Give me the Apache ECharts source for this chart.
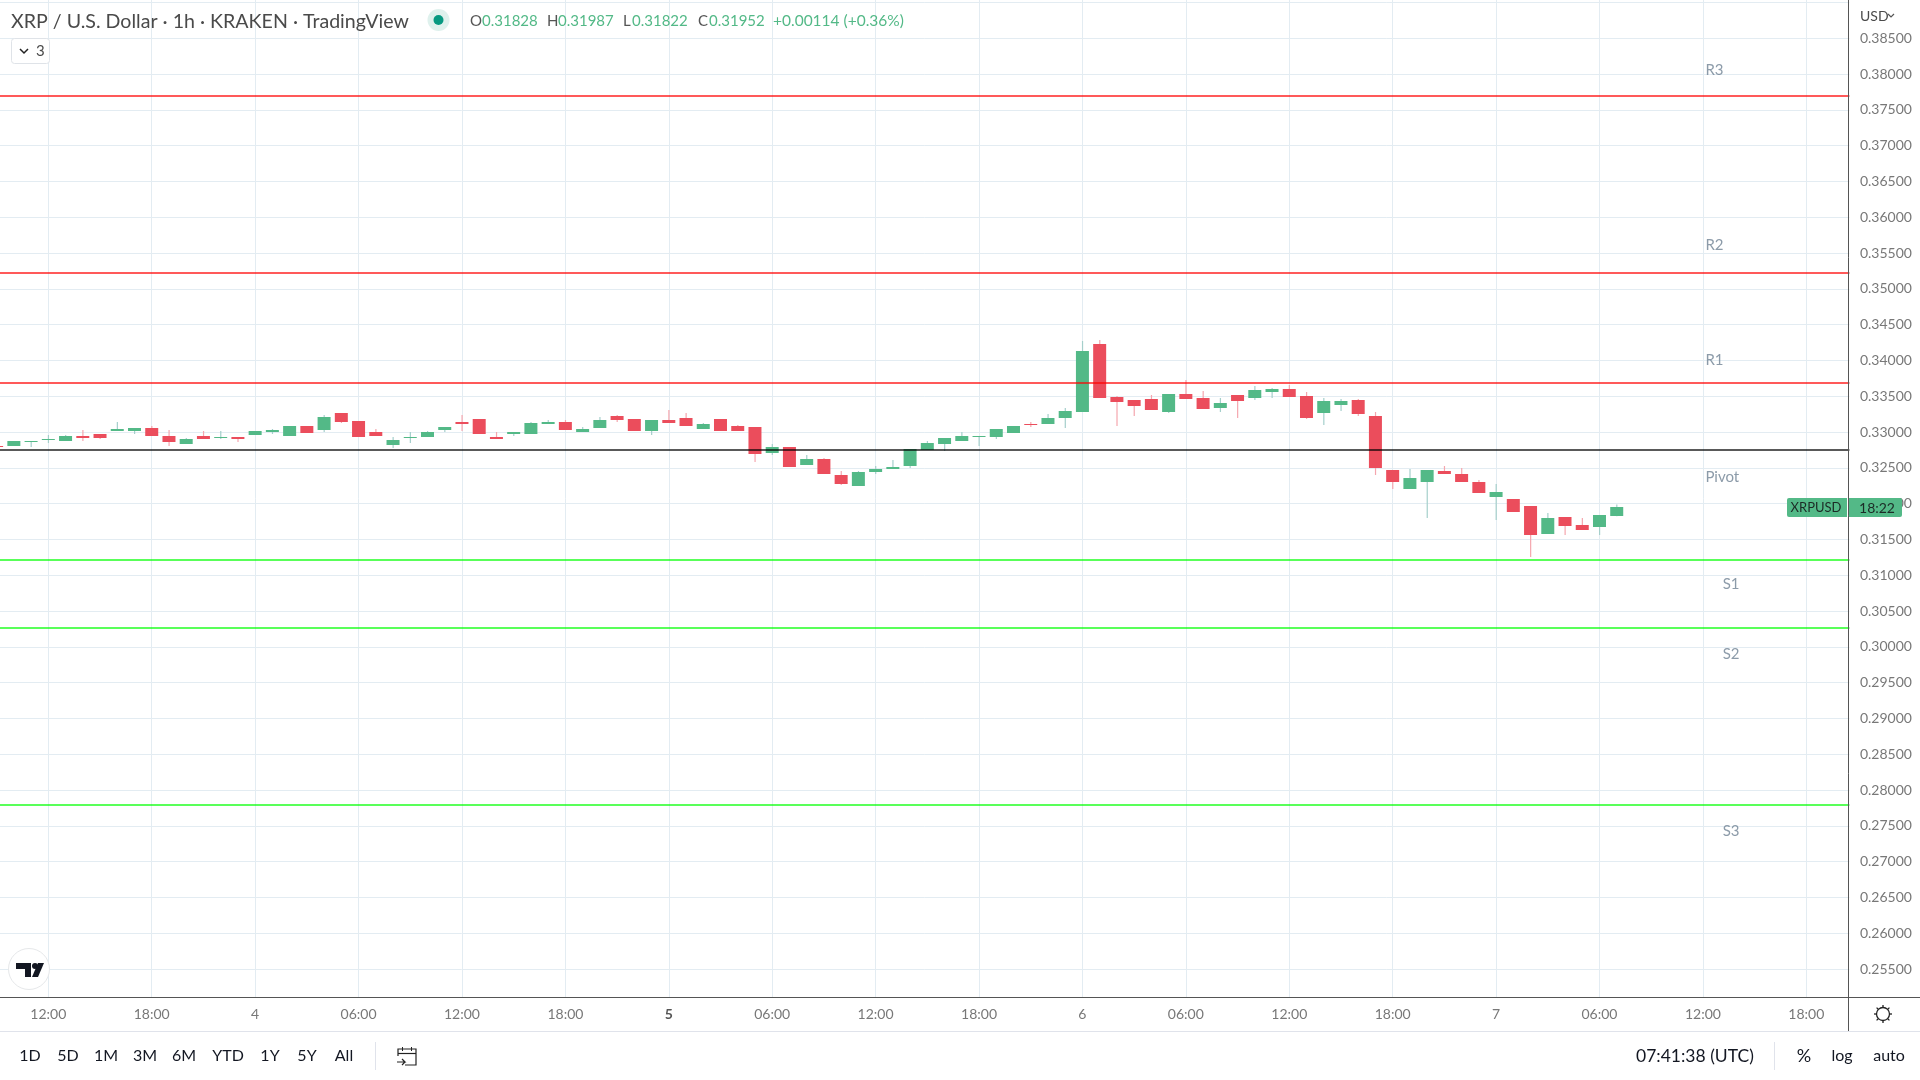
<!DOCTYPE html>
<html>
<head>
<meta charset="utf-8">
<title>XRP / U.S. Dollar 1h</title>
<script src="https://cdn.jsdelivr.net/npm/echarts@6/dist/echarts.min.js"></script>
<style>
  html, body { margin: 0; padding: 0; background: #fff; }
  #main { width: 1920px; height: 1080px; }
</style>
</head>
<body>
<div id="main"></div>
<script>
// hourly candles, first one is a sliver cut off by the left edge
var opens = [
  0.32804, 0.32804, 0.32860, 0.32888, 0.32874, 0.32944, 0.32972, 0.33014, 0.33014, 0.33056,
  0.32944, 0.32832, 0.32944, 0.32916, 0.32930, 0.32958, 0.33000, 0.32944, 0.33084, 0.33028,
  0.33265, 0.33153, 0.33000, 0.32818, 0.32916, 0.32930, 0.33028, 0.33139, 0.33181, 0.32930,
  0.32972, 0.32972, 0.33112, 0.33140, 0.33000, 0.33056, 0.33224, 0.33182, 0.33014, 0.33168,
  0.33196, 0.33042, 0.33182, 0.33084, 0.33070, 0.32707, 0.32791, 0.32539, 0.32623, 0.32400,
  0.32246, 0.32442, 0.32483, 0.32525, 0.32749, 0.32833, 0.32874, 0.32930, 0.32930, 0.32986,
  0.33112, 0.33112, 0.33195, 0.33279, 0.34229, 0.33489, 0.33447, 0.33461, 0.33279, 0.33531,
  0.33475, 0.33335, 0.33517, 0.33475, 0.33559, 0.33600, 0.33503, 0.33265, 0.33377, 0.33447,
  0.33223, 0.32469, 0.32204, 0.32302, 0.32455, 0.32414, 0.32302, 0.32092, 0.32064, 0.31967,
  0.31576, 0.31813, 0.31701, 0.31673, 0.31828
];
var closes = [
  0.32790, 0.32874, 0.32874, 0.32902, 0.32944, 0.32916, 0.32916, 0.33042, 0.33056, 0.32944,
  0.32860, 0.32902, 0.32902, 0.32930, 0.32902, 0.33014, 0.33028, 0.33084, 0.32986, 0.33209,
  0.33139, 0.32930, 0.32944, 0.32888, 0.32930, 0.33000, 0.33070, 0.33112, 0.32972, 0.32902,
  0.33000, 0.33126, 0.33140, 0.33028, 0.33042, 0.33168, 0.33168, 0.33014, 0.33168, 0.33126,
  0.33084, 0.33112, 0.33014, 0.33014, 0.32693, 0.32791, 0.32511, 0.32623, 0.32414, 0.32274,
  0.32442, 0.32483, 0.32511, 0.32763, 0.32846, 0.32916, 0.32944, 0.32944, 0.33042, 0.33084,
  0.33098, 0.33195, 0.33293, 0.34131, 0.33475, 0.33419, 0.33363, 0.33307, 0.33531, 0.33461,
  0.33321, 0.33405, 0.33433, 0.33586, 0.33600, 0.33489, 0.33195, 0.33433, 0.33433, 0.33251,
  0.32497, 0.32302, 0.32358, 0.32469, 0.32414, 0.32302, 0.32148, 0.32162, 0.31883, 0.31562,
  0.31799, 0.31687, 0.31631, 0.31841, 0.31952
];
var lows = [
  0.32790, 0.32804, 0.32790, 0.32846, 0.32874, 0.32874, 0.32902, 0.33014, 0.32972, 0.32944,
  0.32804, 0.32832, 0.32902, 0.32902, 0.32860, 0.32958, 0.32972, 0.32944, 0.32986, 0.33000,
  0.33125, 0.32930, 0.32944, 0.32776, 0.32846, 0.32930, 0.33000, 0.33014, 0.32972, 0.32902,
  0.32944, 0.32972, 0.33112, 0.33028, 0.33000, 0.33056, 0.33140, 0.33014, 0.32958, 0.33126,
  0.33084, 0.33042, 0.33014, 0.33014, 0.32581, 0.32679, 0.32511, 0.32539, 0.32414, 0.32260,
  0.32246, 0.32414, 0.32483, 0.32497, 0.32749, 0.32735, 0.32874, 0.32805, 0.32902, 0.32986,
  0.33070, 0.33112, 0.33056, 0.33279, 0.33475, 0.33084, 0.33223, 0.33307, 0.33265, 0.33461,
  0.33321, 0.33279, 0.33195, 0.33447, 0.33475, 0.33489, 0.33181, 0.33098, 0.33293, 0.33223,
  0.32400, 0.32204, 0.32204, 0.31799, 0.32414, 0.32302, 0.32148, 0.31771, 0.31883, 0.31254,
  0.31576, 0.31562, 0.31631, 0.31562, 0.31822
];
var highs = [
  0.32804, 0.32874, 0.32874, 0.32958, 0.32958, 0.33028, 0.32972, 0.33139, 0.33056, 0.33084,
  0.33028, 0.32916, 0.33014, 0.33014, 0.32930, 0.33014, 0.33042, 0.33084, 0.33084, 0.33237,
  0.33265, 0.33153, 0.33042, 0.32930, 0.33000, 0.33014, 0.33070, 0.33237, 0.33181, 0.33000,
  0.33000, 0.33140, 0.33168, 0.33168, 0.33070, 0.33210, 0.33238, 0.33182, 0.33168, 0.33307,
  0.33265, 0.33126, 0.33182, 0.33098, 0.33070, 0.32833, 0.32791, 0.32679, 0.32637, 0.32455,
  0.32455, 0.32525, 0.32609, 0.32763, 0.32874, 0.32916, 0.33000, 0.32944, 0.33042, 0.33084,
  0.33140, 0.33251, 0.33335, 0.34271, 0.34285, 0.33503, 0.33447, 0.33517, 0.33531, 0.33726,
  0.33572, 0.33475, 0.33517, 0.33642, 0.33614, 0.33656, 0.33559, 0.33475, 0.33461, 0.33461,
  0.33279, 0.32469, 0.32483, 0.32469, 0.32525, 0.32497, 0.32330, 0.32274, 0.32064, 0.31967,
  0.31869, 0.31813, 0.31799, 0.31841, 0.31987
];

// pivot levels
var levelNames = ['R3', 'R2', 'R1', 'Pivot', 'S1', 'S2', 'S3'];
var levelValues = [0.37697, 0.35221, 0.33684, 0.32749, 0.31212, 0.30263, 0.27797];
var levelLabelValues = [0.38056, 0.35612, 0.34006, 0.32364, 0.30877, 0.29899, 0.27427];

// axis ticks
var priceTicks = [
  0.255, 0.26, 0.265, 0.27, 0.275, 0.28, 0.285, 0.29, 0.295, 0.30, 0.305, 0.31, 0.315,
  0.32, 0.325, 0.33, 0.335, 0.34, 0.345, 0.35, 0.355, 0.36, 0.365, 0.37, 0.375, 0.38, 0.385
];
var timeLabels = ['12:00', '18:00', '4', '06:00', '12:00', '18:00', '{bold|5}', '06:00', '12:00', '18:00',
  '6', '06:00', '12:00', '18:00', '7', '06:00', '12:00', '18:00'];
var rangeButtons = ['1D', '5D', '1M', '3M', '6M', 'YTD', '1Y', '5Y', 'All'];
var rangeButtonX = [30, 68, 106, 145, 184, 228, 270, 307, 344];

var FONT = 'Lato, "Noto Sans", sans-serif';
var UP = '#53b987';
var DOWN = '#eb4d5c';
var UP_WICK = '#a5cfcb';
var DOWN_WICK = '#f5a6ae';
var GRID = '#e3ecf2';

var COUNT = 108;
var categories = [];
for (var i = 0; i < COUNT; i++) {
  // a label every 6 candles, starting at the 4th
  categories.push((i - 3) % 6 === 0 ? timeLabels[(i - 3) / 6] : '');
}

var candleData = [];
for (var k = 0; k < opens.length; k++) {
  candleData.push([k, opens[k], closes[k], lows[k], highs[k]]);
}

function renderCandle(params, api) {
  var x = api.value(0);
  var o = api.value(1), c = api.value(2), l = api.value(3), h = api.value(4);
  var up = c >= o;
  var band = api.size([1, 0])[0];
  var w = Math.round(band * 0.76);
  var top = api.coord([x, Math.max(o, c)]);
  var bottom = api.coord([x, Math.min(o, c)]);
  var wickTop = api.coord([x, h]);
  var wickBottom = api.coord([x, l]);
  return {
    type: 'group',
    children: [{
      type: 'rect',
      shape: { x: top[0] - 0.5, y: wickTop[1], width: 1.2, height: wickBottom[1] - wickTop[1] },
      style: { fill: up ? UP_WICK : DOWN_WICK }
    }, {
      type: 'rect',
      shape: { x: top[0] - w / 2, y: top[1], width: w, height: Math.max(bottom[1] - top[1], 1) },
      style: { fill: up ? UP : DOWN }
    }]
  };
}

var lineColors = ['rgba(255,0,0,.65)', 'rgba(255,0,0,.65)', 'rgba(255,0,0,.65)', 'rgba(0,0,0,.65)',
  'rgba(0,255,0,.65)', 'rgba(0,255,0,.65)', 'rgba(0,255,0,.65)'];
var levelLines = levelValues.map(function (v, n) {
  return { yAxis: v, lineStyle: { color: lineColors[n], width: 1.8, type: 'solid' } };
});
var levelLabels = levelNames.map(function (name, n) {
  // S labels sit one candle further right
  return { name: name, value: [name.charAt(0) === 'S' ? categories.length - 8 : categories.length - 9, levelLabelValues[n]] };
});

function txt(x, y, text, color, size, align, weight) {
  return {
    type: 'text', z: 110, x: x, y: y,
    style: {
      text: text, fill: color, align: align || 'left', verticalAlign: 'middle',
      font: (weight || 'normal') + ' ' + (size || 15) + 'px ' + FONT
    }
  };
}
function hline(x1, x2, y, color, w) {
  return { type: 'line', z: 100, shape: { x1: x1, y1: y, x2: x2, y2: y }, style: { stroke: color, lineWidth: w || 1 } };
}
function vline(x, y1, y2, color, w) {
  return { type: 'line', z: 105, shape: { x1: x, y1: y1, x2: x, y2: y2 }, style: { stroke: color, lineWidth: w || 1 } };
}
function ray(x1, y1, x2, y2) {
  return { type: 'line', z: 100, shape: { x1: x1, y1: y1, x2: x2, y2: y2 }, style: { stroke: '#222', lineWidth: 1.3 } };
}

var chrome = [
  // header
  txt(11, 22, 'XRP / U.S. Dollar · 1h · KRAKEN · TradingView', '#4a4a4a', 19.6),
  { type: 'circle', z: 100, shape: { cx: 438.5, cy: 20, r: 11 }, style: { fill: '#dff1ed' } },
  { type: 'circle', z: 101, shape: { cx: 438.5, cy: 20, r: 5 }, style: { fill: '#089981' } },
  txt(470, 21, 'O', '#555', 15), txt(482, 21, '0.31828', UP, 15),
  txt(547, 21, 'H', '#555', 15), txt(558, 21, '0.31987', UP, 15),
  txt(623, 21, 'L', '#555', 15), txt(632, 21, '0.31822', UP, 15),
  txt(698, 21, 'C', '#555', 15), txt(709, 21, '0.31952', UP, 15),
  txt(773, 21, '+0.00114 (+0.36%)', UP, 15.5),
  { type: 'rect', z: 100, shape: { x: 11.5, y: 38.5, width: 38, height: 25, r: 3 }, style: { fill: '#fff', stroke: '#dfe3e8' } },
  { type: 'polyline', z: 101, shape: { points: [[20, 49], [24, 53], [28, 49]] }, style: { stroke: '#222', fill: null, lineWidth: 1.5 } },
  txt(36, 51, '3', '#4a4a4a', 15),
  txt(1860, 16, 'USD', '#4a4a4a', 14),
  { type: 'polyline', z: 101, shape: { points: [[1888, 14], [1891, 17], [1894, 14]] }, style: { stroke: '#555', fill: null, lineWidth: 1.2 } },

  // axis frame
  vline(1848.5, 0, 1031, '#555'),
  hline(0, 1920, 997.5, '#555'),
  hline(0, 1920, 1031.5, '#e0e3eb'),

  // price tag
  { type: 'rect', z: 102, shape: { x: 1787, y: 498, width: 115, height: 19, r: 2 }, style: { fill: UP } },
  vline(1847.5, 498, 517, '#fff'),
  txt(1816, 508, 'XRPUSD', '#1c2b26', 13, 'center'),
  txt(1877, 508, '18:22', '#1c2b26', 14, 'center'),

  // logo
  { type: 'circle', z: 100, shape: { cx: 29, cy: 969, r: 20.5 }, style: { fill: '#fff', stroke: '#e6e8ea' } },
  { type: 'polygon', z: 101, shape: { points: [[16, 963], [31, 963], [31, 977], [25, 977], [25, 969], [16, 969]] }, style: { fill: '#131722' } },
  { type: 'circle', z: 101, shape: { cx: 35, cy: 966, r: 3 }, style: { fill: '#131722' } },
  { type: 'polygon', z: 101, shape: { points: [[38, 963], [44, 963], [38, 977], [32, 977]] }, style: { fill: '#131722' } },

  // gear
  { type: 'circle', z: 101, shape: { cx: 1883, cy: 1014, r: 6.5 }, style: { fill: '#fff', stroke: '#222', lineWidth: 1.3 } },
  ray(1883, 1005, 1883, 1008), ray(1883, 1020, 1883, 1023),
  ray(1874, 1014, 1877, 1014), ray(1889, 1014, 1892, 1014),
  ray(1876.6, 1007.6, 1878.6, 1009.6), ray(1887.4, 1018.4, 1889.4, 1020.4),
  ray(1889.4, 1007.6, 1887.4, 1009.6), ray(1878.6, 1018.4, 1876.6, 1020.4),

  // bottom bar
  vline(375.5, 1042, 1070, '#e0e3eb'),
  vline(1774.5, 1042, 1070, '#e0e3eb'),
  { type: 'polyline', z: 100, shape: { points: [[398, 1056], [398, 1049], [416, 1049], [416, 1065], [405, 1065]] }, style: { stroke: '#222', fill: null, lineWidth: 1.2 } },
  hline(398, 416, 1053.5, '#222', 1.2),
  vline(402.5, 1047, 1051, '#222'), vline(411.5, 1047, 1051, '#222'),
  { type: 'polyline', z: 100, shape: { points: [[397, 1062], [405, 1062], [402, 1059], [405, 1062], [402, 1065]] }, style: { stroke: '#222', fill: null, lineWidth: 1.2 } },
  txt(1636, 1056, '07:41:38 (UTC)', '#131722', 17.5),
  txt(1804, 1056, '%', '#131722', 18, 'center'),
  txt(1842, 1056, 'log', '#131722', 16, 'center'),
  txt(1889, 1056, 'auto', '#131722', 16, 'center')
];
rangeButtons.forEach(function (b, n) {
  chrome.push(txt(rangeButtonX[n], 1056, b, '#131722', 16, 'center'));
});

var chart = echarts.init(document.getElementById('main'), null, { width: 1920, height: 1080 });
chart.setOption({
  backgroundColor: '#fff',
  animation: false,
  textStyle: { fontFamily: FONT },
  grid: { left: -12, top: 0, width: 1861.4, height: 997.3, containLabel: false, outerBoundsMode: 'none' },
  xAxis: {
    type: 'category',
    data: categories,
    axisLine: { show: false },
    axisTick: { show: false },
    axisLabel: {
      interval: function (idx) { return (idx - 3) % 6 === 0; },
      color: '#787878', fontSize: 14, fontFamily: FONT, margin: 10,
      rich: { bold: { fontWeight: 'bold', color: '#555', fontSize: 14, fontFamily: FONT } }
    },
    splitLine: {
      show: true,
      alignWithLabel: true,
      interval: function (idx) { return (idx - 3) % 6 === 0; },
      lineStyle: { color: GRID, width: 1 }
    }
  },
  yAxis: {
    type: 'value',
    position: 'right',
    min: 0.251047,
    max: 0.390335,
    axisLine: { show: false },
    axisTick: { show: false, customValues: priceTicks.concat([0.39]) },
    axisLabel: {
      customValues: priceTicks,
      color: '#787878', fontSize: 14, fontFamily: FONT, margin: 10.5,
      formatter: function (v) { return v.toFixed(5); }
    },
    splitLine: { show: true, lineStyle: { color: GRID, width: 1 } }
  },
  series: [{
    name: 'XRPUSD',
    type: 'custom',
    renderItem: renderCandle,
    data: candleData,
    encode: { x: 0, y: [1, 2, 3, 4] },
    clip: true,
    z: 2
  }, {
    name: 'levels',
    type: 'line',
    data: [],
    z: 3,
    markLine: {
      silent: true,
      symbol: 'none',
      animation: false,
      precision: 5,
      label: { show: false },
      data: levelLines
    }
  }, {
    name: 'level labels',
    type: 'scatter',
    symbolSize: 0,
    z: 4,
    data: levelLabels,
    label: {
      show: true,
      position: 'right',
      distance: 2.5,
      formatter: '{b}',
      color: '#6f8294',
      fontSize: 15,
      fontFamily: FONT
    }
  }],
  graphic: chrome
});
</script>
</body>
</html>
